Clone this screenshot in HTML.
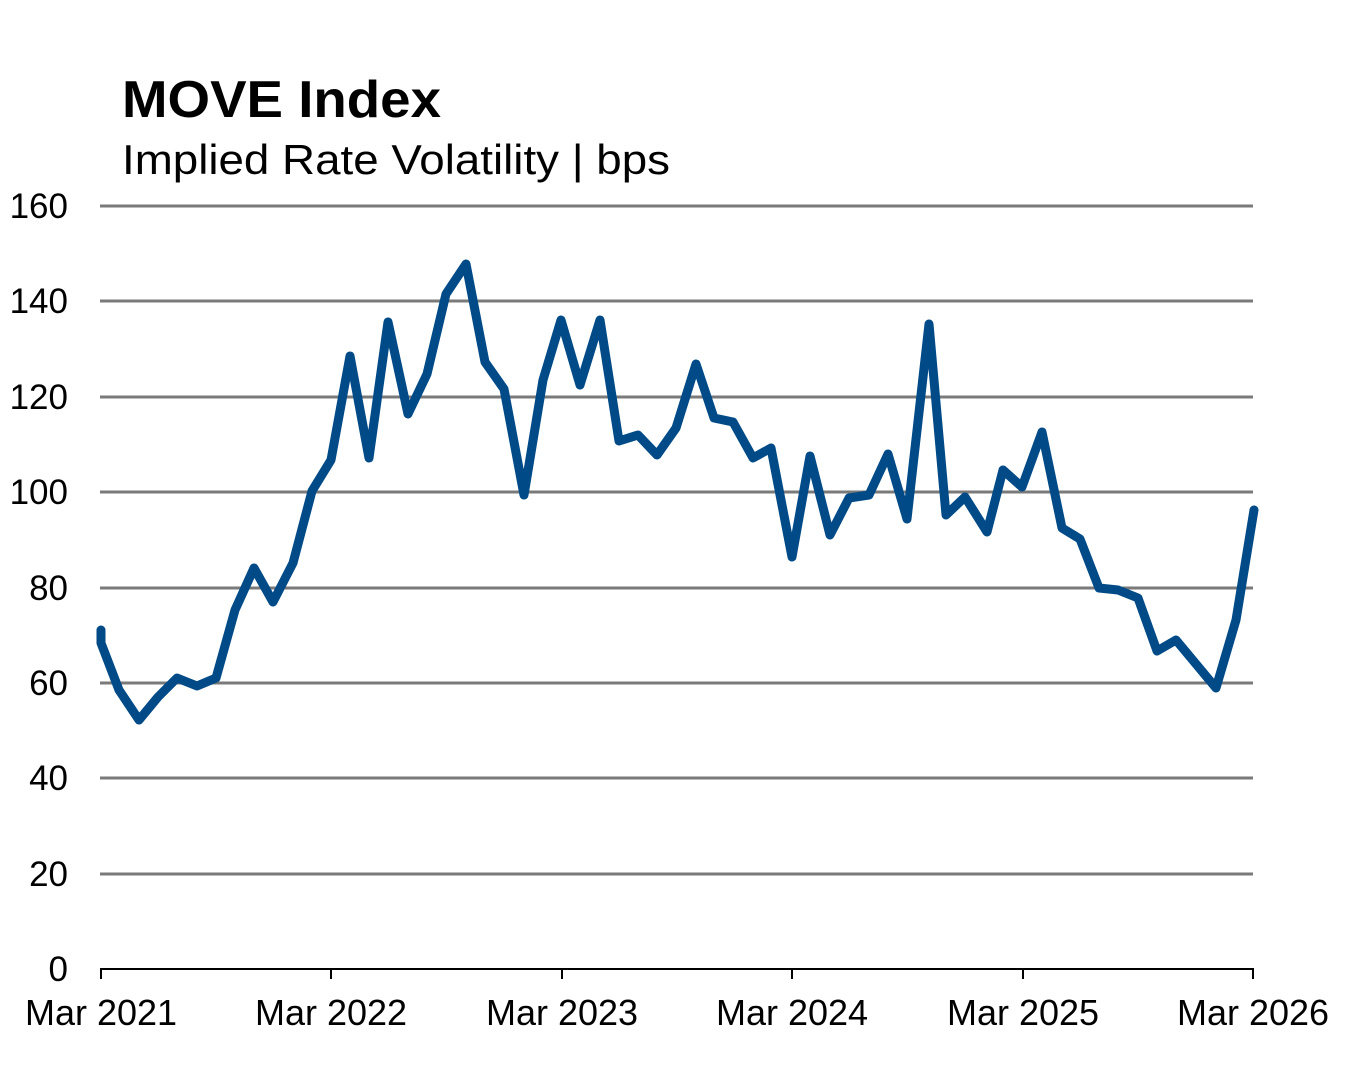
<!DOCTYPE html>
<html><head><meta charset="utf-8"><style>html,body{margin:0;padding:0;background:#fff}</style></head>
<body>
<svg width="1353" height="1071" viewBox="0 0 1353 1071" xmlns="http://www.w3.org/2000/svg" font-family="Liberation Sans, Arial, sans-serif">
<rect width="1353" height="1071" fill="#fff"/>
<text x="122" y="117" font-size="52" font-weight="bold" textLength="319" lengthAdjust="spacingAndGlyphs">MOVE Index</text>
<text x="122" y="174" font-size="42" textLength="548" lengthAdjust="spacingAndGlyphs">Implied Rate Volatility | bps</text>
<g stroke="#7a7a7a" stroke-width="3">
<line x1="100" y1="206" x2="1253" y2="206"/>
<line x1="100" y1="301" x2="1253" y2="301"/>
<line x1="100" y1="397" x2="1253" y2="397"/>
<line x1="100" y1="492" x2="1253" y2="492"/>
<line x1="100" y1="588" x2="1253" y2="588"/>
<line x1="100" y1="683" x2="1253" y2="683"/>
<line x1="100" y1="778" x2="1253" y2="778"/>
<line x1="100" y1="874" x2="1253" y2="874"/>
</g>
<g stroke="#000" stroke-width="2">
<line x1="100" y1="969" x2="1254" y2="969"/>
<line x1="101" y1="969" x2="101" y2="979"/>
<line x1="331" y1="969" x2="331" y2="979"/>
<line x1="562" y1="969" x2="562" y2="979"/>
<line x1="792" y1="969" x2="792" y2="979"/>
<line x1="1023" y1="969" x2="1023" y2="979"/>
<line x1="1253" y1="969" x2="1253" y2="979"/>
</g>
<g font-size="35" text-anchor="end">
<text x="68" y="218">160</text>
<text x="68" y="313">140</text>
<text x="68" y="409">120</text>
<text x="68" y="504">100</text>
<text x="68" y="600">80</text>
<text x="68" y="695">60</text>
<text x="68" y="790">40</text>
<text x="68" y="886">20</text>
<text x="68" y="981">0</text>
</g>
<g font-size="36" text-anchor="middle">
<text x="101" y="1025" textLength="152" lengthAdjust="spacingAndGlyphs">Mar 2021</text>
<text x="331" y="1025" textLength="152" lengthAdjust="spacingAndGlyphs">Mar 2022</text>
<text x="562" y="1025" textLength="152" lengthAdjust="spacingAndGlyphs">Mar 2023</text>
<text x="792" y="1025" textLength="152" lengthAdjust="spacingAndGlyphs">Mar 2024</text>
<text x="1023" y="1025" textLength="152" lengthAdjust="spacingAndGlyphs">Mar 2025</text>
<text x="1253" y="1025" textLength="152" lengthAdjust="spacingAndGlyphs">Mar 2026</text>
</g>
<polyline fill="none" stroke="#004b87" stroke-width="9" stroke-linejoin="round" stroke-linecap="round"
points="101,630 101,643 119,690 139,720 158,697 177,678 197,686 216,678 235,610 254,568 273,602 293,563 312,491 331,460 350,356 369,458 388,322 408,414 427,374 446,294 466,264 485,362 504,389 524,495 543,380 561,320 580,385 600,320 619,441 638,435 657,455 676,428 696,364 714,418 733,422 753,458 771,448 792,557 810,456 830,535 849,498 869,495 888,454 907,519 929,324 946,515 965,497 987,532 1003,470 1022,487 1042,432 1062,528 1080,539 1099,588 1118,590 1138,598 1157,651 1176,640 1216,688 1236,620 1254,510"/>
</svg>
</body></html>
